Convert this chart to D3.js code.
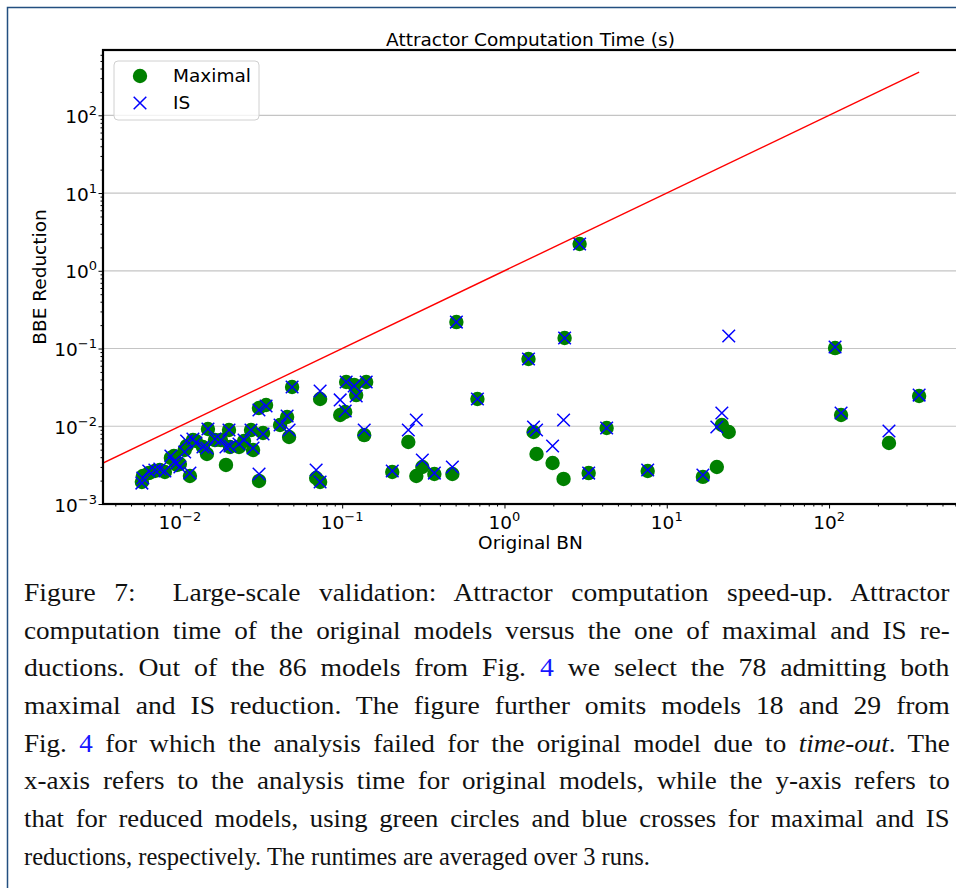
<!DOCTYPE html>
<html><head><meta charset="utf-8">
<script src="https://cdn.jsdelivr.net/npm/d3@7"></script>
<style>body{margin:0;background:#fff}svg{display:block}</style>
</head><body><svg id="c" width="956" height="888"></svg>
<script>
// ---- data ----
const originalBN = [0.00583,0.00591,0.00643,0.00701,0.00752,0.00808,0.0088,0.00918,0.00958,0.0100,
  0.0107,0.0110,0.01153,0.01203,0.01255,0.01387,0.01468,0.01489,0.01644,0.01791,
  0.01923,0.02007,0.02035,0.02313,0.02484,0.02743,0.02823,0.03074,0.0307,0.03253,
  0.03396,0.04143,0.04577,0.04708,0.04913,0.0691,0.0731,0.0731,0.0972,0.1044,
  0.1058,0.1186,0.1220,0.1406,0.1367,0.2035,0.2556,0.2863,0.3118,0.3698,
  0.4775,0.5054,0.6813,1.406,1.510,1.576,1.979,2.313,2.347,2.904,
  3.302,4.262,7.63,16.7,20.35,21.85,24.1,108.9,118.6,234,359];
const maximal = [0.00192,0.00229,0.00250,0.00266,0.00274,0.00258,0.00391,0.00414,0.00318,0.00327,
  0.00495,0.00557,0.00229,0.00665,0.00646,0.00541,0.00440,0.00922,0.00665,0.00665,
  0.00318,0.00895,0.00541,0.00541,0.00646,0.00895,0.00495,0.00198,0.01718,0.00819,
  0.01876,0.01038,0.01315,0.00727,0.0320,0.00216,0.00192,0.0224,0.01396,0.01525,
  0.0371,0.0340,0.0252,0.0371,0.00771,0.00258,0.00627,0.00229,0.00299,0.00243,
  0.00243,0.219,0.0224,0.0733,0.00843,0.00440,0.00337,0.00210,0.1365,2.21,
  0.00250,0.00949,0.00266,0.00223,0.00299,0.01038,0.00843,0.1014,0.01396,0.00609,0.0245];
const isReduction = [0.00186,0.00216,0.00266,0.00274,0.00282,0.00266,0.00414,0.00347,0.00337,0.00299,
  0.00467,0.00646,0.00250,0.00686,0.00609,0.00541,0.00525,0.00922,0.00686,0.00665,
  0.00541,0.00895,0.00557,0.00591,0.00665,0.00895,0.00525,0.00243,0.01618,0.00795,
  0.0182,0.01038,0.01355,0.00895,0.0320,0.00274,0.00192,0.0284,0.0218,0.0157,
  0.0371,0.0330,0.0245,0.0371,0.00895,0.00266,0.00895,0.01203,0.00368,0.00250,
  0.00299,0.219,0.0224,0.0733,0.00978,0.00895,0.00557,0.01203,0.1365,2.21,
  0.00250,0.00949,0.00274,0.00236,0.00978,0.0148,0.145,0.1045,0.0148,0.00869,0.0252];
const xTickExps = [-2,-1,0,1,2];
const yTickExps = [-3,-2,-1,0,1,2];
const seriesNames = ["Maximal","IS"];
const titleText = "Attractor Computation Time (s)";
const xLabel = "Original BN";
const yLabel = "BBE Reduction";

// ---- layout ----
const svg = d3.select("#c");
const L = 103, R = 958, T = 50, B = 504;
const font = "'DejaVu Sans', sans-serif";
const fs = 18.5;

// frame
svg.append("rect").attr("x",7.5).attr("y",7.5).attr("width",1200).attr("height",1200)
  .attr("fill","none").attr("stroke","#234f80").attr("stroke-width",1.5);

const lx = d3.extent(originalBN).map(Math.log10);
const pad = (lx[1]-lx[0])*0.05;
const x = d3.scaleLog().domain([Math.pow(10,lx[0]-pad), Math.pow(10,lx[1]+pad)]).range([L,R]);
const y = d3.scaleLog().domain([1e-3, Math.pow(10,2.84)]).range([B,T]);

const defs = svg.append("defs");
defs.append("clipPath").attr("id","clip").append("rect")
  .attr("x",L).attr("y",T).attr("width",R-L).attr("height",B-T);

// grid
svg.append("g").selectAll("line").data(yTickExps).join("line")
  .attr("x1",L).attr("x2",R)
  .attr("y1",d=>y(Math.pow(10,d))).attr("y2",d=>y(Math.pow(10,d)))
  .attr("stroke","#c4c4c4").attr("stroke-width",1.2);

// axes (ticks)
function minorVals(sc){
  const [a,b] = sc.domain(); const out=[];
  for(let e=Math.floor(Math.log10(a)); e<=Math.ceil(Math.log10(b)); e++)
    for(let m=2;m<10;m++){ const v=m*Math.pow(10,e); if(v>=a&&v<=b) out.push(v); }
  return out;
}
const xMinor = minorVals(x);
const yMinor = minorVals(y);
const xMajor = xTickExps.map(e=>Math.pow(10,e));
const yMajor = yTickExps.map(e=>Math.pow(10,e));

svg.append("g").attr("transform",`translate(0,${B})`)
  .call(d3.axisBottom(x).tickValues(xMinor).tickSize(2.5).tickFormat(""))
  .call(g=>g.select(".domain").remove());
svg.append("g").attr("transform",`translate(0,${B})`)
  .call(d3.axisBottom(x).tickValues(xMajor).tickSize(4.5).tickFormat(""))
  .call(g=>g.select(".domain").remove());
svg.append("g").attr("transform",`translate(${L},0)`)
  .call(d3.axisLeft(y).tickValues(yMinor).tickSize(2.5).tickFormat(""))
  .call(g=>g.select(".domain").remove());
svg.append("g").attr("transform",`translate(${L},0)`)
  .call(d3.axisLeft(y).tickValues(yMajor).tickSize(4.5).tickFormat(""))
  .call(g=>g.select(".domain").remove());
svg.selectAll(".tick line").attr("stroke","#000").attr("stroke-width",1);

function sup(e){ return (e<0?"\u2212":"")+Math.abs(e); }
const xl = svg.append("g").selectAll("text").data(xTickExps).join("text")
  .attr("x",d=>x(Math.pow(10,d))).attr("y",529).attr("text-anchor","middle")
  .attr("font-family",font).attr("font-size",fs).attr("fill","#000");
xl.append("tspan").text("10");
xl.append("tspan").attr("dy",-8).attr("font-size",13).text(d=>sup(d));

const yl = svg.append("g").selectAll("text").data(yTickExps).join("text")
  .attr("x",97).attr("y",d=>y(Math.pow(10,d))+7.5).attr("text-anchor","end")
  .attr("font-family",font).attr("font-size",fs).attr("fill","#000");
yl.append("tspan").text("10");
yl.append("tspan").attr("dy",-8).attr("font-size",13).text(d=>sup(d));

// points
const pts = svg.append("g").attr("clip-path","url(#clip)");
pts.selectAll("circle").data(originalBN).join("circle")
  .attr("cx",d=>x(d)).attr("cy",(d,i)=>y(maximal[i])).attr("r",7.2).attr("fill","#008000");
const cr = 6.3;
pts.selectAll("path.is").data(originalBN).join("path").attr("class","is")
  .attr("d",(d,i)=>{const cx=x(d), cy=y(isReduction[i]);
    return `M${cx-cr},${cy-cr}L${cx+cr},${cy+cr}M${cx-cr},${cy+cr}L${cx+cr},${cy-cr}`;})
  .attr("stroke","#0000ff").attr("stroke-width",1.5).attr("fill","none");

// diagonal y = x
const diag = [x.domain()[0], d3.max(originalBN)];
pts.append("path").datum(diag)
  .attr("d",d3.line().x(d=>x(d)).y(d=>y(d)))
  .attr("stroke","#ff0000").attr("stroke-width",1.4).attr("fill","none");

// spines
svg.append("rect").attr("x",L).attr("y",T).attr("width",R-L).attr("height",B-T)
  .attr("fill","none").attr("stroke","#000").attr("stroke-width",2.2);

// title & labels
svg.append("text").attr("x",(L+R)/2).attr("y",46).attr("text-anchor","middle")
  .attr("font-family",font).attr("font-size",fs).text(titleText);
svg.append("text").attr("x",(L+R)/2).attr("y",549).attr("text-anchor","middle")
  .attr("font-family",font).attr("font-size",fs).text(xLabel);
svg.append("text").attr("transform",`translate(46,${(T+B)/2}) rotate(-90)`).attr("text-anchor","middle")
  .attr("font-family",font).attr("font-size",fs).text(yLabel);

// legend
const lg = svg.append("g");
lg.append("rect").attr("x",114).attr("y",61).attr("width",145).attr("height",59).attr("rx",4)
  .attr("fill","#fff").attr("fill-opacity",0.8).attr("stroke","#d0d0d0").attr("stroke-width",1);
lg.append("circle").attr("cx",140).attr("cy",76).attr("r",7.2).attr("fill","#008000");
lg.append("path").attr("d",`M${140-cr},${103-cr}L${140+cr},${103+cr}M${140-cr},${103+cr}L${140+cr},${103-cr}`)
  .attr("stroke","#0000ff").attr("stroke-width",1.5);
lg.selectAll("text.lt").data(seriesNames).join("text").attr("class","lt")
  .attr("x",173).attr("y",(d,i)=>82+i*27).attr("font-family",font).attr("font-size",fs).text(d=>d);

// caption
const capLines = [
  [["Figure 7:  Large-scale validation: Attractor computation speed-up. Attractor"]],
  [["computation time of the original models versus the one of maximal and IS re-"]],
  [["ductions. Out of the 86 models from Fig. "],["4","blue"],[" we select the 78 admitting both"]],
  [["maximal and IS reduction. The figure further omits models 18 and 29 from"]],
  [["Fig. "],["4","blue"],[" for which the analysis failed for the original model due to "],["time-out","it"],[". The"]],
  [["x-axis refers to the analysis time for original models, while the y-axis refers to"]],
  [["that for reduced models, using green circles and blue crosses for maximal and IS"]],
  [["reductions, respectively. The runtimes are averaged over 3 runs."]]
];
capLines.forEach((parts,i)=>{
  const t = svg.append("text").attr("x",24).attr("y",601+i*37.7)
    .attr("font-family","'Liberation Serif', serif").attr("font-size",24.5).attr("fill","#111")
    .attr("xml:space","preserve");
  parts.forEach(p=>{
    const s = t.append("tspan").text(p[0]);
    if(p[1]==="blue") s.attr("fill","#1515ff");
    if(p[1]==="it") s.attr("font-style","italic");
  });
  if(i<capLines.length-1){
    const w = t.node().getComputedTextLength();
    const full = parts.map(p=>p[0]).join("");
    const nSp = (full.match(/ /g)||[]).length;
    const extra = 926 - w;
    // half of the justification stretch goes into inter-word gaps, half into glyph width
    t.attr("word-spacing", (extra*0.45/nSp).toFixed(3));
    const w2 = t.node().getComputedTextLength();
    t.attr("transform", `translate(24,0) scale(${926/w2},1) translate(-24,0)`);
  }
});
</script></body></html>
